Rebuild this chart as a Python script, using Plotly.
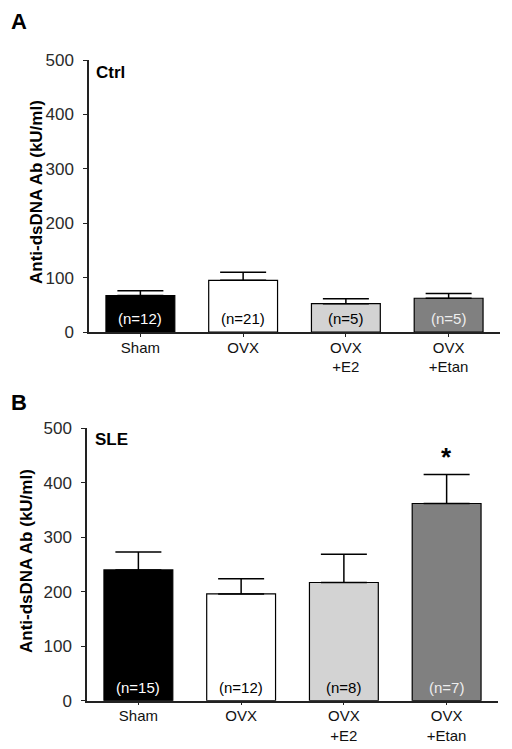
import plotly.graph_objects as go

# ---- data ----
categories = ["Sham", "OVX", "OVX<br>+E2", "OVX<br>+Etan"]
ctrl_means = [67, 95, 52, 62]
ctrl_sem = [9, 15, 9, 9]
ctrl_n = ["(n=12)", "(n=21)", "(n=5)", "(n=5)"]
sle_means = [240, 196, 217, 362]
sle_sem = [33, 28, 52, 53]
sle_n = ["(n=15)", "(n=12)", "(n=8)", "(n=7)"]
y_ticks = [0, 100, 200, 300, 400, 500]
sig_category = "OVX<br>+Etan"
sig_value = 448

bar_colors = ["#000000", "#ffffff", "#d3d3d3", "#808080"]
label_colors = ["#ffffff", "#000000", "#000000", "#eeeeee"]

FONT = "Liberation Sans, Arial, Helvetica, sans-serif"
AXC = "#222222"
W, H = 512, 749

fig = go.Figure()

def add_panel(means, sem, xa, ya):
    fig.add_trace(go.Bar(
        x=categories, y=means, width=0.67,
        marker=dict(color=bar_colors, line=dict(color="#000000", width=1.2)),
        error_y=dict(type="data", symmetric=False, array=sem,
                     arrayminus=[0] * len(sem), width=23, thickness=1.5,
                     color="#000000"),
        xaxis=xa, yaxis=ya, showlegend=False, hoverinfo="skip",
    ))

add_panel(ctrl_means, ctrl_sem, "x", "y")
add_panel(sle_means, sle_sem, "x2", "y2")

xcommon = dict(type="category", range=[-0.5, 3.5], showline=True,
               linecolor=AXC, linewidth=1.5, ticks="outside", ticklen=3,
               tickcolor=AXC, tickwidth=1.2, showgrid=False, zeroline=False,
               automargin=False, ticklabelstandoff=-2,
               tickfont=dict(family=FONT, size=15, color="#111111"))
ycommon = dict(range=[0, 500], tickvals=y_ticks, showline=True,
               linecolor=AXC, linewidth=1.5, ticks="outside", ticklen=4,
               tickcolor=AXC, tickwidth=1.2, showgrid=False, zeroline=False,
               automargin=False, ticklabelstandoff=6,
               tickfont=dict(family=FONT, size=17, color="#2a2a2a"))

fig.update_layout(
    width=W, height=H, autosize=False,
    margin=dict(l=0, r=0, t=0, b=0),
    paper_bgcolor="white", plot_bgcolor="white",
    xaxis=dict(domain=[89 / W, 500 / W], anchor="y", **xcommon),
    yaxis=dict(domain=[1 - 332 / H, 1 - 60 / H], anchor="x", **ycommon),
    xaxis2=dict(domain=[87 / W, 498 / W], anchor="y2", **xcommon),
    yaxis2=dict(domain=[1 - 700.7 / H, 1 - 428.3 / H], anchor="x2", **ycommon),
    bargap=0.33,
)

ann = []
# n labels inside bars
for xa, ya, labels in (("x", "y", ctrl_n), ("x2", "y2", sle_n)):
    for c, t, col in zip(categories, labels, label_colors):
        ann.append(dict(x=c, y=24, xref=xa, yref=ya, text=t, showarrow=False,
                        xanchor="center", yanchor="middle",
                        font=dict(family=FONT, size=15, color=col)))
# significance star
ann.append(dict(x=sig_category, y=sig_value, xref="x2", yref="y2", text="<b>*</b>",
                showarrow=False, xanchor="center", yanchor="middle",
                font=dict(family=FONT, size=26, color="#000000")))
# panel letters
for letter, yp in (("A", 21), ("B", 402)):
    ann.append(dict(x=19 / W, y=1 - yp / H, xref="paper", yref="paper",
                    text="<b>" + letter + "</b>", showarrow=False,
                    xanchor="center", yanchor="middle",
                    font=dict(family=FONT, size=22, color="#000000")))
# group labels
for txt, xp, yp in (("Ctrl", 94, 72), ("SLE", 93, 439)):
    ann.append(dict(x=xp / W, y=1 - yp / H, xref="paper", yref="paper",
                    text="<b>" + txt + "</b>", showarrow=False,
                    xanchor="left", yanchor="middle",
                    font=dict(family=FONT, size=17, color="#000000")))
# y titles
for xp, yp in ((37, 192), (26, 561)):
    ann.append(dict(x=xp / W, y=1 - yp / H, xref="paper", yref="paper",
                    text="<b>Anti-dsDNA Ab (kU/ml)</b>", showarrow=False,
                    textangle=-90, xanchor="center", yanchor="middle",
                    font=dict(family=FONT, size=17, color="#000000")))
fig.update_layout(annotations=ann)

fig.write_html("out.html", config={"displayModeBar": False},
               post_script="document.body.style.margin='0px';document.body.style.overflow='hidden';")
